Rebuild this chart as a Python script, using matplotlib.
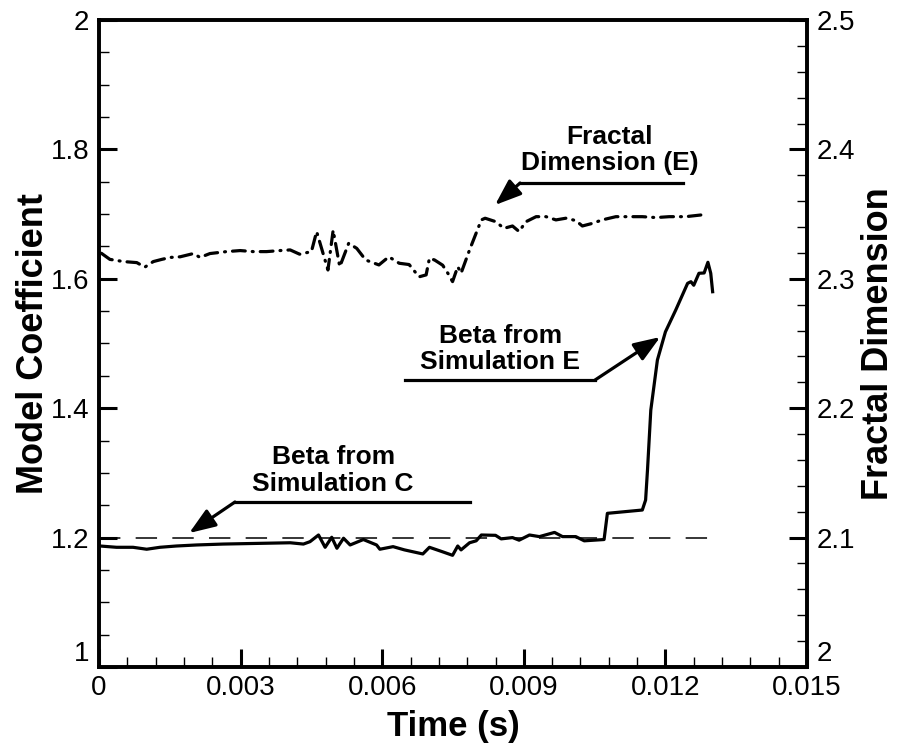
import matplotlib
matplotlib.use("Agg")
import matplotlib.pyplot as plt
from matplotlib.ticker import MultipleLocator

plt.rcParams['font.family'] = ['Liberation Sans', 'DejaVu Sans']

# Beta from simulation E (left axis)
beta_t = [0.00002, 0.00037, 0.00072, 0.00101, 0.00129, 0.00164, 0.00207, 0.00263,
          0.00334, 0.00405, 0.00433, 0.00447, 0.00465, 0.00479, 0.00493, 0.00504,
          0.00518, 0.00532, 0.00560, 0.00588, 0.00595, 0.00623, 0.00647, 0.00686,
          0.00700, 0.00728, 0.00749, 0.00760, 0.00767, 0.00785, 0.00799, 0.00810,
          0.00840, 0.00852, 0.00876, 0.00890, 0.00912, 0.00933, 0.00965, 0.00982,
          0.01010, 0.01028, 0.01070, 0.01077, 0.01151, 0.01158, 0.01162, 0.01169,
          0.01183, 0.01200, 0.01222, 0.01247, 0.01254, 0.01260, 0.01271, 0.01282,
          0.01290, 0.01296, 0.01300]
beta_v = [1.187, 1.185, 1.185, 1.182, 1.185, 1.187, 1.1886, 1.190,
          1.191, 1.192, 1.190, 1.1937, 1.204, 1.185, 1.2005, 1.1835,
          1.199, 1.1886, 1.197, 1.1886, 1.182, 1.186, 1.181, 1.1747,
          1.185, 1.178, 1.1726, 1.187, 1.181, 1.192, 1.195, 1.204,
          1.2035, 1.198, 1.200, 1.196, 1.204, 1.2015, 1.208, 1.2015,
          1.2015, 1.195, 1.197, 1.2375, 1.2426, 1.258, 1.3045, 1.397,
          1.4745, 1.518, 1.552, 1.593, 1.5955, 1.590, 1.6085, 1.609,
          1.6255, 1.6085, 1.580]

# Fractal dimension E (right axis)
frac_t = [0.00005, 0.00023, 0.00052, 0.00080, 0.00097, 0.00115, 0.00133, 0.00151,
          0.00172, 0.00200, 0.00214, 0.00235, 0.00270, 0.00299, 0.00327, 0.00355,
          0.00383, 0.00405, 0.00425, 0.00450, 0.00461, 0.00485, 0.00496, 0.00510,
          0.00529, 0.00546, 0.00565, 0.00593, 0.00614, 0.00636, 0.00657, 0.00678,
          0.00693, 0.00700, 0.00711, 0.00728, 0.00739, 0.00749, 0.00760, 0.00767,
          0.00785, 0.00810, 0.00818, 0.00840, 0.00858, 0.00876, 0.00890, 0.00904,
          0.00926, 0.00947, 0.00968, 0.00989, 0.01010, 0.01024, 0.01045, 0.01066,
          0.01095, 0.01123, 0.01151, 0.01180, 0.01208, 0.01243, 0.01275]
frac_v = [2.3197, 2.3150, 2.3133, 2.3125, 2.3090, 2.3133, 2.3150, 2.3165,
          2.3170, 2.3195, 2.3165, 2.3195, 2.3210, 2.3218, 2.3210, 2.3210,
          2.3218, 2.3223, 2.3190, 2.3210, 2.3365, 2.3068, 2.3375, 2.3093,
          2.3275, 2.3235, 2.3145, 2.3107, 2.3170, 2.3120, 2.3110, 2.3015,
          2.3030, 2.3159, 2.3145, 2.3105, 2.3043, 2.2978, 2.3094, 2.3043,
          2.3223, 2.3455, 2.3468, 2.3442, 2.3390, 2.3408, 2.3365, 2.3440,
          2.3480, 2.3480, 2.3455, 2.3468, 2.3450, 2.3408, 2.3428, 2.3455,
          2.3480, 2.3480, 2.3480, 2.3473, 2.3480, 2.3480, 2.3493]

ref_t = [0.0, 0.013]
ref_v = [1.2, 1.2]

fig = plt.figure(figsize=(8.97, 7.54), dpi=100)
ax = fig.add_axes([0.1104, 0.1154, 0.7893, 0.8581])
ax2 = ax.twinx()

ax.plot(ref_t, ref_v, color='black', lw=1.1, dashes=(14, 10))
ax.plot(beta_t, beta_v, color='black', lw=2.3, solid_joinstyle='round')
ax2.plot(frac_t, frac_v, color='black', lw=2.3, dashes=(4, 2.2, 0.3, 2.2),
         dash_capstyle='round')

ax.set_xlim(0, 0.015)
ax.set_ylim(1, 2)
ax2.set_ylim(2, 2.5)

ax.xaxis.set_minor_locator(MultipleLocator(0.0006))
ax.yaxis.set_minor_locator(MultipleLocator(0.05))
ax2.yaxis.set_minor_locator(MultipleLocator(0.02))

ax.set_xticks([0, 0.003, 0.006, 0.009, 0.012, 0.015])
ax.set_xticklabels(['0', '0.003', '0.006', '0.009', '0.012', '0.015'])
ax.set_yticks([1, 1.2, 1.4, 1.6, 1.8, 2])
ax.set_yticklabels(['1', '1.2', '1.4', '1.6', '1.8', '2'])
ax2.set_yticks([2, 2.1, 2.2, 2.3, 2.4, 2.5])
ax2.set_yticklabels(['2', '2.1', '2.2', '2.3', '2.4', '2.5'])

for a in (ax, ax2):
    a.tick_params(which='major', direction='in', length=13, width=2.2, labelsize=20)
    a.tick_params(which='minor', direction='in', length=7.5, width=1.0)
    for s in a.spines.values():
        s.set_linewidth(2.6)
ax.tick_params(axis='x', pad=6, top=False)
ax.tick_params(axis='y', pad=7)
ax2.tick_params(axis='y', pad=7)

ax.get_yticklabels()[0].set_verticalalignment('bottom')
ax2.get_yticklabels()[0].set_verticalalignment('bottom')

ax.set_xlabel('Time (s)', fontsize=25, fontweight='bold', labelpad=6)
ax.set_ylabel('Model Coefficient', fontsize=26, fontweight='bold', labelpad=0)
ax2.set_ylabel('Fractal Dimension', fontsize=26, fontweight='bold', labelpad=4)

# annotations: text, underline and arrow
notes = [
    ('Fractal\nDimension (E)', 0.01082, 1.760, (0.00892, 0.01237), 1.748, (0.00839, 1.714)),
    ('Beta from\nSimulation E', 0.00850, 1.453, (0.00648, 0.01051), 1.4436, (0.01189, 1.510)),
    ('Beta from\nSimulation C', 0.00496, 1.265, (0.00288, 0.00786), 1.255, (0.00191, 1.207)),
]
for txt, tx, ty, (x0, x1), ly, tip in notes:
    ax.text(tx, ty, txt, ha='center', va='bottom', fontsize=19, fontweight='bold',
            linespacing=1.12)
    ax.plot([x0, x1], [ly, ly], color='black', lw=2.3)
    start = (x0, ly) if tip[0] < x0 else (x1, ly)
    ax.annotate('', xy=tip, xytext=start,
                arrowprops=dict(arrowstyle='-|>,head_length=0.8,head_width=0.3',
                                color='black', lw=2.3, shrinkA=0, shrinkB=0,
                                mutation_scale=20))

fig.savefig('out.png', dpi=100)
